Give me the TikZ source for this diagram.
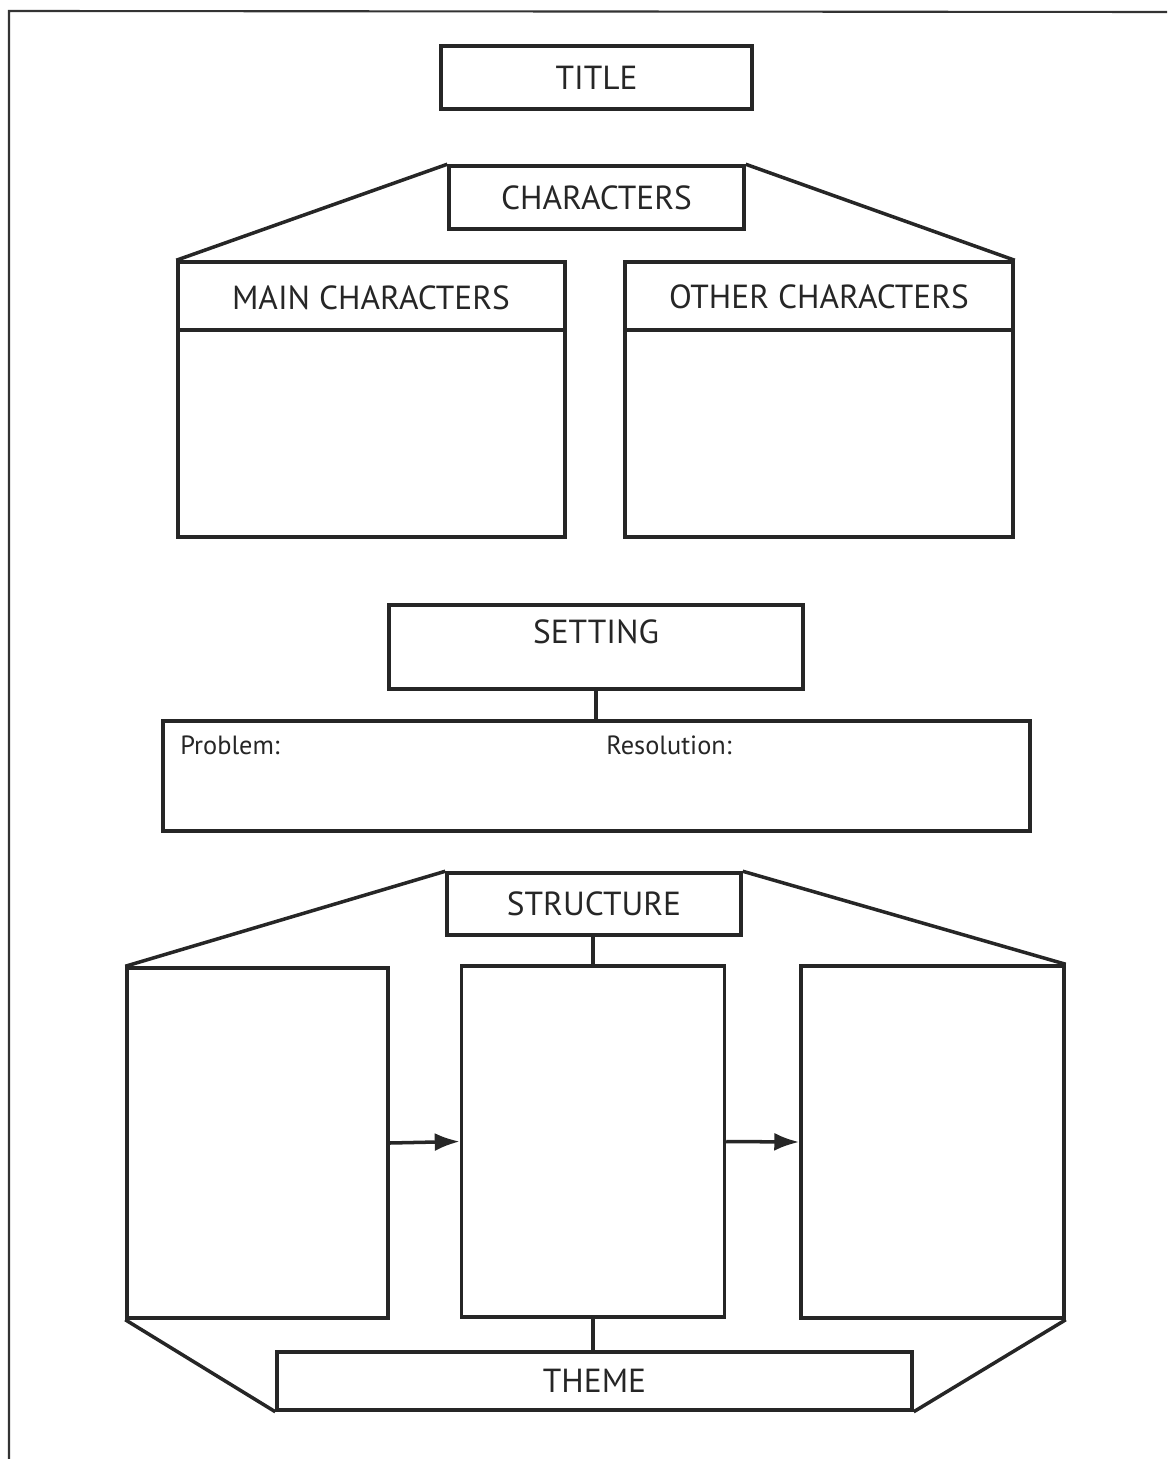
\documentclass[tikz,border=0pt]{standalone}
\usepackage{fontspec}
\setmainfont{PT Sans}
\usetikzlibrary{arrows.meta}

\tikzset{
  box/.style={draw=black!85, line width=2pt, inner sep=0pt},
  lbl/.style={text=black!85, font=\fontsize{19}{22}\selectfont},
  small/.style={text=black!85, font=\fontsize{15}{18}\selectfont, inner sep=0pt},
  link/.style={draw=black!85, line width=2pt},
}

\begin{document}
\begin{tikzpicture}[x=0.02cm, y=-0.02cm, >={Latex[length=5mm,width=3.6mm]}]
      \useasboundingbox (0, 0) rectangle (1167, 1459);
      \draw[black!80, line width=1.2pt] (9, 1459) -- (9, 11) -- (1167, 12);

      % title and characters
      \node[box, lbl, minimum width=6.22cm, minimum height=1.26cm] (title) at (596.5, 77.5) {TITLE};
      \node[box, lbl, minimum width=5.9cm, minimum height=1.26cm] (chars) at (596.5, 197.5) {CHARACTERS};
      \node[box, minimum width=7.74cm, minimum height=5.5cm] (main) at (371.5, 399.5) {};
      \node[box, minimum width=7.76cm, minimum height=5.5cm] (other) at (819, 399.5) {};
      \node[lbl] (mainhead) at (371, 298) {MAIN CHARACTERS};
      \node[lbl] (otherhead) at (819, 297) {OTHER CHARACTERS};
      \draw[link] (main.west |- 0, 330) -- (main.east |- 0, 330);
      \draw[link] (other.west |- 0, 330) -- (other.east |- 0, 330);
      \draw[link] (chars.north west) -- (main.north west);
      \draw[link] (chars.north east) -- (other.north east);

      % setting
      \node[box, minimum width=8.28cm, minimum height=1.68cm] (setting) at (596, 647) {};
      \node[lbl] (settinglbl) at (596, 632) {SETTING};
      \node[box, minimum width=17.34cm, minimum height=2.2cm] (plot) at (596.5, 776) {};
      \node[small, anchor=west] (problem) at (180, 745) {Problem:};
      \node[small, anchor=west] (resolution) at (606, 745) {Resolution:};
      \draw[link] (setting.south) -- (setting.south |- plot.north);

      % structure
      \node[box, lbl, minimum width=5.88cm, minimum height=1.24cm] (structure) at (594, 904) {STRUCTURE};
      \node[box, minimum width=5.22cm, minimum height=7cm] (begin) at (257.5, 1143) {};
      \node[box, minimum width=5.26cm, minimum height=7.02cm] (middle) at (593, 1141.5) {};
      \node[box, minimum width=5.26cm, minimum height=7.04cm] (end) at (932.5, 1142) {};
      \draw[link] (structure.north west) -- (begin.north west);
      \draw[link] (structure.north east) -- (end.north east);
      \draw[link] (middle.north |- structure.south) -- (middle.north);
      \draw[link, ->] (begin.east) -- (middle.west);
      \draw[link, ->] (middle.east) -- (end.west);

      % theme
      \node[box, lbl, minimum width=12.7cm, minimum height=1.16cm] (theme) at (594.5, 1381) {THEME};
      \draw[link] (middle.south) -- (middle.south |- theme.north);
      \draw[link] (begin.south west) -- (theme.south west);
      \draw[link] (end.south east) -- (theme.south east);
    \end{tikzpicture}
\end{document}
